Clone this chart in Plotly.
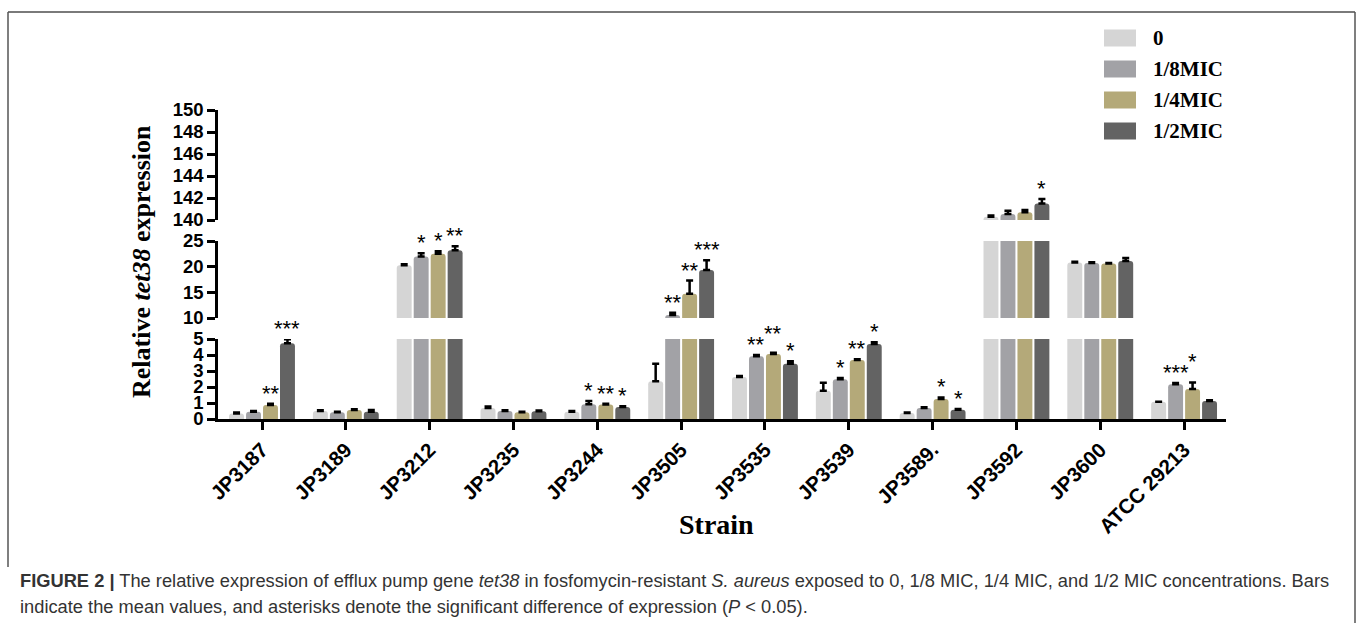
import plotly.graph_objects as go

# ---------------- data ----------------
strains = ["JP3187", "JP3189", "JP3212", "JP3235", "JP3244", "JP3505",
           "JP3535", "JP3539", "JP3589.", "JP3592", "JP3600", "ATCC 29213"]
series_names = ["0", "1/8MIC", "1/4MIC", "1/2MIC"]

val_0   = [0.35, 0.50, 20.3, 0.68, 0.45, 2.36, 2.62, 1.77, 0.38, 140.3, 20.8, 1.08]
val_1_8 = [0.45, 0.42, 22.0, 0.50, 0.92, 10.6, 3.92, 2.48, 0.68, 140.55, 20.7, 2.17]
val_1_4 = [0.88, 0.56, 22.5, 0.42, 0.90, 14.7, 4.06, 3.69, 1.25, 140.7, 20.6, 1.88]
val_1_2 = [4.73, 0.46, 23.2, 0.48, 0.75, 19.35, 3.46, 4.69, 0.58, 141.5, 21.1, 1.12]

err_0   = [0.05, 0.05, 0.15, 0.10, 0.05, 1.10, 0.07, 0.50, 0.03, 0.10, 0.15, 0.0]
err_1_8 = [0.05, 0.03, 0.60, 0.05, 0.20, 0.40, 0.08, 0.08, 0.05, 0.30, 0.15, 0.08]
err_1_4 = [0.07, 0.05, 0.50, 0.03, 0.05, 2.60, 0.08, 0.05, 0.10, 0.20, 0.10, 0.40]
err_1_2 = [0.25, 0.10, 0.80, 0.05, 0.05, 1.90, 0.15, 0.10, 0.05, 0.40, 0.60, 0.05]

sig_0   = ["", "", "", "", "", "", "", "", "", "", "", ""]
sig_1_8 = ["", "", "*", "", "*", "**", "**", "*", "", "", "", "***"]
sig_1_4 = ["**", "", "*", "", "**", "**", "**", "**", "*", "", "", "*"]
sig_1_2 = ["***", "", "**", "", "*", "***", "*", "*", "*", "*", "", ""]

# broken y axis segments: (low, high, tick step)
segments = [(0, 5, 1), (10, 25, 5), (140, 150, 2)]
y_tick_labels = [[str(v) for v in range(lo, hi + 1, st)] for lo, hi, st in segments]

values = [val_0, val_1_8, val_1_4, val_1_2]
errors = [err_0, err_1_8, err_1_4, err_1_2]
sigs = [sig_0, sig_1_8, sig_1_4, sig_1_2]
colors = ["#d5d5d5", "#a2a2a6", "#b4a979", "#636363"]

# ---------------- layout geometry (pixels) ----------------
W, H = 1358, 623
PL, PR, PT, PB = 218, 1226, 110, 419   # plot area
PW, PH = PR - PL, PB - PT
seg_px = [(419, 339), (318, 241), (220, 110)]  # bottom/top pixel of each segment
XMIN, XMAX = -0.525, 11.5


def px2x(px):
    return (px - PL) / PW


def px2y(py):
    return (PB - py) / PH


def val2px(v):
    j = 0
    for n, (lo, hi, st) in enumerate(segments):
        if v >= lo:
            j = n
    lo, hi, st = segments[j]
    b, t = seg_px[j]
    return b - (v - lo) / (hi - lo) * (b - t), j


domains = [[px2y(b), px2y(t)] for b, t in seg_px]
axis_names = ["y", "y2", "y3"]
layout_axis_names = ["yaxis", "yaxis2", "yaxis3"]

BARGAP = 0.19
fig = go.Figure()

for k in range(4):
    for ai, an in enumerate(axis_names):
        fig.add_trace(go.Bar(
            x=strains, y=values[k], name=series_names[k],
            xaxis="x", yaxis=an, showlegend=False,
            marker=dict(color=colors[k], line=dict(width=0)),
            error_y=dict(type="data", array=errors[k], arrayminus=[0] * len(strains),
                         symmetric=False, color="black", thickness=2.5, width=3.5),
            hoverinfo="skip",
        ))

line_style = dict(showline=True, linecolor="black", linewidth=2.5,
                  ticks="outside", ticklen=8, tickwidth=2.5, tickcolor="black",
                  showgrid=False, zeroline=False)

layout_kwargs = dict(
    width=W, height=H,
    margin=dict(l=PL, r=W - PR, t=PT, b=H - PB, pad=0),
    paper_bgcolor="white", plot_bgcolor="white",
    barmode="group", bargap=BARGAP, bargroupgap=0.12, barcornerradius=3,
    showlegend=False,
    xaxis=dict(type="category", range=[XMIN, XMAX], anchor="y", tickangle=-45,
               tickfont=dict(family="Liberation Sans, Arial", size=20.5, color="black",
                             weight="bold"),
               **line_style),
)
for ai, (lo, hi, st) in enumerate(segments):
    layout_kwargs[layout_axis_names[ai]] = dict(
        domain=domains[ai], range=[lo, hi], anchor="x",
        tickvals=list(range(lo, hi + 1, st)), ticktext=y_tick_labels[ai],
        tickfont=dict(family="Liberation Sans, Arial", size=18.5, color="black",
                      weight="bold"),
        **line_style)
fig.update_layout(**layout_kwargs)
fig.update_layout(font=dict(family="Liberation Sans, Arial", color="black"))

annotations = []
# asterisks above bars (raised when they would collide with the left neighbour)
STAR_SIZE = 22
STAR_W = 0.389 * 20
width_slot = (1 - BARGAP) / 4
slot_px = width_slot * PW / (XMAX - XMIN)
for i, s in enumerate(strains):
    prev = None  # (center_px, text)
    for k in range(4):
        txt = sigs[k][i]
        if not txt:
            prev = None
            continue
        top = values[k][i] + errors[k][i]
        py_top, ai = val2px(top)
        center = py_top - 14
        if prev is not None:
            pc, ptxt = prev
            if (len(ptxt) + len(txt)) * STAR_W / 2 + 3 > slot_px and abs(center - pc) < 10:
                center = min(center, pc - 11)
        prev = (center, txt)
        xpos = i - (1 - BARGAP) / 2 + (k + 0.5) * width_slot
        annotations.append(dict(
            x=xpos, y=top, xref="x", yref=axis_names[ai], text=txt,
            showarrow=False, yanchor="bottom", xanchor="center",
            yshift=-4 + (py_top - 14 - center),
            font=dict(family="Liberation Sans, Arial", size=STAR_SIZE, color="black")))

# axis titles
annotations.append(dict(
    x=px2x(141), y=px2y(262), xref="paper", yref="paper",
    text="<b>Relative <i>tet38</i> expression</b>", textangle=-90, showarrow=False,
    xanchor="center", yanchor="middle",
    font=dict(family="Liberation Serif, Times New Roman", size=26, color="black")))
annotations.append(dict(
    x=px2x(716), y=px2y(524), xref="paper", yref="paper",
    text="<b>Strain</b>", showarrow=False, xanchor="center", yanchor="middle",
    font=dict(family="Liberation Serif, Times New Roman", size=28, color="black")))

# custom legend
shapes = []
for k, nm in enumerate(series_names):
    cy = 38 + 31 * k
    shapes.append(dict(type="rect", xref="paper", yref="paper",
                       x0=px2x(1104), x1=px2x(1136), y0=px2y(cy - 8.5), y1=px2y(cy + 8.5),
                       fillcolor=colors[k], line=dict(width=0)))
    annotations.append(dict(
        x=px2x(1151), y=px2y(cy), xref="paper", yref="paper", text="<b>" + nm + "</b>",
        showarrow=False, xanchor="left", yanchor="middle",
        font=dict(family="Liberation Serif, Times New Roman", size=21, color="black")))

# caption
cap_font = dict(family="Liberation Sans, Arial", size=18.3, color="#333333")
annotations.append(dict(
    x=px2x(18), y=px2y(580), xref="paper", yref="paper", xanchor="left", yanchor="middle",
    showarrow=False, font=cap_font,
    text="<b>FIGURE 2 |</b> The relative expression of efflux pump gene <i>tet38</i> in "
         "fosfomycin-resistant <i>S. aureus</i> exposed to 0, 1/8 MIC, 1/4 MIC, and 1/2 MIC "
         "concentrations. Bars"))
annotations.append(dict(
    x=px2x(18), y=px2y(606), xref="paper", yref="paper", xanchor="left", yanchor="middle",
    showarrow=False, font=cap_font,
    text="indicate the mean values, and asterisks denote the significant difference of "
         "expression (<i>P</i> &lt; 0.05)."))

# frame
shapes.append(dict(type="line", xref="paper", yref="paper",
                   x0=px2x(8), x1=px2x(1355), y0=px2y(12), y1=px2y(12),
                   line=dict(color="#7a7a7a", width=2)))
shapes.append(dict(type="line", xref="paper", yref="paper",
                   x0=px2x(8), x1=px2x(8), y0=px2y(12), y1=px2y(567),
                   line=dict(color="#555555", width=1.5)))
shapes.append(dict(type="line", xref="paper", yref="paper",
                   x0=px2x(1355), x1=px2x(1355), y0=px2y(12), y1=px2y(623),
                   line=dict(color="#555555", width=1.5)))

fig.update_layout(annotations=annotations, shapes=shapes)
fig.write_html("out.html",
               config={"displayModeBar": False},
               post_script="document.body.style.margin='0px';"
                           "document.body.style.overflow='hidden';")
